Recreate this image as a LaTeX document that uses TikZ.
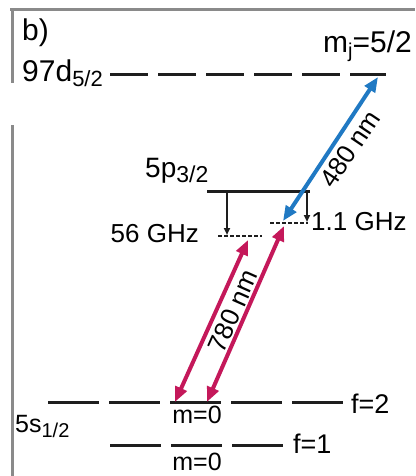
\documentclass[tikz,border=0pt]{standalone}
\usepackage{fontspec}
\setmainfont{Liberation Sans}
\usetikzlibrary{arrows.meta}
\definecolor{Fc}{HTML}{8A8A8A}
\definecolor{Bc}{HTML}{2079C3}
\definecolor{Rc}{HTML}{C4185A}
\definecolor{Kc}{HTML}{1E1E1E}
\tikzset{
  panel/.style={Fc, line width=3pt},
  lev/.style={Kc, line width=3pt},
  rydlev/.style={lev, dash pattern=on 38pt off 10pt},
  hflev/.style={lev, dash pattern=on 51pt off 10pt},
  virt/.style={Kc, line width=1.2pt, dash pattern=on 3.5pt off 2.5pt},
  det/.style={-{Triangle[length=7pt,width=6pt]}, Kc, line width=2pt},
  bluebeam/.style={{Triangle[length=15pt,width=12pt]}-{Triangle[length=15pt,width=12pt]}, Bc, line width=4pt},
  redbeam/.style={{Triangle[length=15pt,width=12pt]}-{Triangle[length=15pt,width=12pt]}, Rc, line width=4pt},
  lbl/.style={inner sep=0pt, font=\fontsize{26pt}{28pt}\selectfont},
  biglbl/.style={inner sep=0pt, font=\fontsize{30pt}{32pt}\selectfont},
}
% subscript: size, text
\newcommand{\lsub}[2]{\raisebox{-5pt}{\fontsize{#1}{#1}\selectfont #2}}

\begin{document}
\begin{tikzpicture}[x=1pt, y=-1pt]
  \useasboundingbox (0,0) rectangle (415,476);
  % panel frame
  \draw[panel] (10,10) -- (415,10);
  \draw[panel] (12,10) -- (12,83);
  \draw[panel] (12,125) -- (12,476);
  \node[biglbl, anchor=base west] (tag) at (22,41) {b)};
  % Rydberg level
  \node[biglbl, anchor=base west] (ryd) at (22,82) {97d\lsub{22pt}{5/2}};
  \coordinate (rydA) at (110,75);
  \coordinate (rydB) at (386,75);
  \draw[rydlev] (rydA) -- (rydB);
  \node[biglbl, anchor=base east] (mj) at (412,53) {m\lsub{20pt}{j}=5/2};
  % intermediate level and detunings
  \node[lbl, font=\fontsize{28pt}{30pt}\selectfont, anchor=base west] (p) at (145,177) {5p\lsub{23pt}{3/2}};
  \coordinate (pA) at (207,191);
  \coordinate (pB) at (310,191);
  \draw[lev] (pA) -- (pB);
  \coordinate (vA) at (218,236);
  \coordinate (vB) at (262,236);
  \coordinate (wA) at (270,223);
  \coordinate (wB) at (308,223);
  \draw[virt] (vA) -- (vB);
  \draw[virt] (wA) -- (wB);
  \coordinate (dA) at (227,191);
  \coordinate (dA') at (227,235);
  \coordinate (dB) at (307,191);
  \coordinate (dB') at (307,222);
  \draw[det] (dA) -- (dA');
  \draw[det] (dB) -- (dB');
  \node[lbl, anchor=base east] (far) at (199,242) {56 GHz};
  \node[lbl, anchor=base west] (near) at (311,230) {1.1 GHz};
  % ground levels
  \coordinate (fA) at (48,402);
  \coordinate (fB) at (344,402);
  \coordinate (gA) at (110,445);
  \coordinate (gB) at (283,445);
  \draw[hflev] (fA) -- (fB);
  \draw[hflev] (gA) -- (gB);
  \node[lbl, font=\fontsize{27pt}{29pt}\selectfont, anchor=base west] (f2) at (351,413) {f=2};
  \node[lbl, font=\fontsize{27pt}{29pt}\selectfont, anchor=base west] (f1) at (293,453) {f=1};
  \node[lbl, font=\fontsize{25pt}{27pt}\selectfont, anchor=base] (m2) at (197,423) {m=0};
  \node[lbl, font=\fontsize{25pt}{27pt}\selectfont, anchor=base] (m1) at (197,470) {m=0};
  \node[lbl, font=\fontsize{25pt}{27pt}\selectfont, anchor=base west] (s) at (15,432) {5s\lsub{20pt}{1/2}};
  % lasers
  \coordinate (r1a) at (175,402);
  \coordinate (r1b) at (248,240);
  \coordinate (r2a) at (207,402);
  \coordinate (r2b) at (284,226);
  \coordinate (ba) at (283,221);
  \coordinate (bb) at (378,77);
  \draw[redbeam] (r1a) -- (r1b);
  \draw[redbeam] (r2a) -- (r2b);
  \draw[bluebeam] (ba) -- (bb);
  \node[lbl, rotate=66] (red) at (233,311) {780 nm};
  \node[lbl, rotate=56] (blue) at (350,149) {480 nm};
\end{tikzpicture}
\end{document}
